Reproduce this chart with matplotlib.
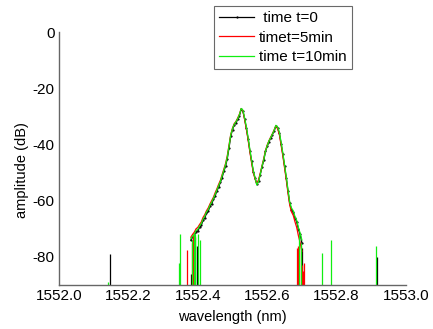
import matplotlib
matplotlib.use("Agg")
import matplotlib.pyplot as plt

plt.rcParams['font.family'] = ['Liberation Sans', 'DejaVu Sans']

# main spectrum (shared wavelength grid)
wl = [1552.380, 1552.385, 1552.390, 1552.395, 1552.400, 1552.405, 1552.410, 1552.415,
      1552.420, 1552.425, 1552.430, 1552.435, 1552.440, 1552.445, 1552.450, 1552.455,
      1552.460, 1552.465, 1552.470, 1552.475, 1552.480, 1552.485, 1552.490, 1552.495,
      1552.500, 1552.505, 1552.510, 1552.515, 1552.520, 1552.525, 1552.530, 1552.535,
      1552.540, 1552.545, 1552.550, 1552.555, 1552.560, 1552.565, 1552.570, 1552.575,
      1552.580, 1552.585, 1552.590, 1552.595, 1552.600, 1552.605, 1552.610, 1552.615,
      1552.620, 1552.625, 1552.630, 1552.635, 1552.640, 1552.645, 1552.650, 1552.655,
      1552.660, 1552.665, 1552.670, 1552.675, 1552.680, 1552.685, 1552.690, 1552.695,
      1552.700]
amp_t0 = [-74.0, -73.0, -72.5, -71.0, -70.8, -69.5, -68.8, -67.0, -66.2, -64.5, -63.8, -62.0,
          -61.2, -59.5, -58.3, -56.5, -55.2, -53.5, -51.8, -49.5, -47.8, -45.0, -41.2, -37.0,
          -34.8, -33.0, -32.4, -31.0, -29.8, -27.5, -28.2, -31.0, -34.3, -38.0, -42.2, -46.0,
          -49.7, -52.0, -54.2, -53.0, -50.7, -48.0, -45.7, -42.5, -40.7, -39.0, -37.8, -36.5,
          -35.2, -33.5, -34.2, -36.0, -39.7, -43.5, -47.7, -52.0, -56.7, -61.0, -63.2, -64.0,
          -66.2, -67.5, -70.2, -72.0, -75.0]
amp_t5 = [-73.0, -72.0, -71.2, -70.0, -69.5, -68.5, -67.6, -66.0, -65.0, -63.6, -62.6, -61.2,
          -60.0, -58.8, -57.2, -55.8, -54.2, -52.8, -50.8, -48.8, -46.8, -44.0, -40.2, -36.4,
          -34.2, -32.6, -31.8, -30.6, -29.2, -27.3, -28.0, -31.2, -34.6, -38.4, -42.6, -46.5,
          -50.0, -52.3, -54.0, -52.6, -50.2, -47.6, -45.0, -42.2, -40.2, -38.7, -37.4, -36.2,
          -34.8, -33.3, -34.4, -36.4, -40.2, -44.0, -48.3, -52.6, -57.4, -61.6, -64.0, -65.2,
          -67.5, -69.5, -72.5, -75.0, -78.0]
amp_t10 = [-73.6, -72.6, -72.0, -70.6, -70.2, -69.0, -68.2, -66.6, -65.6, -64.0, -63.2, -61.6,
           -60.6, -59.2, -57.8, -56.2, -54.7, -53.2, -51.2, -49.2, -47.2, -44.5, -40.6, -36.6,
           -34.4, -32.8, -32.0, -30.8, -29.4, -27.2, -27.8, -30.6, -33.8, -37.6, -41.8, -45.6,
           -49.4, -51.8, -54.4, -53.2, -50.6, -47.8, -45.4, -42.4, -40.4, -38.8, -37.6, -36.3,
           -35.0, -33.2, -33.8, -35.6, -39.2, -43.0, -47.2, -51.6, -56.2, -60.6, -62.6, -63.6,
           -65.6, -67.0, -69.6, -71.6, -74.0]

# isolated noise spikes (wavelength, top amplitude)
spk_t0_wl = [1552.147, 1552.380, 1552.392, 1552.397, 1552.700, 1552.917]
spk_t0_amp = [-79.0, -86.0, -73.0, -76.0, -77.0, -80.0]
spk_t5_wl = [1552.368, 1552.383, 1552.386, 1552.686, 1552.690, 1552.697, 1552.700, 1552.703, 1552.705]
spk_t5_amp = [-77.5, -75.0, -72.0, -77.0, -76.0, -76.0, -83.0, -85.0, -82.0]
spk_t10_wl = [1552.140, 1552.347, 1552.349, 1552.383, 1552.388, 1552.393, 1552.400, 1552.405,
              1552.693, 1552.697, 1552.758, 1552.784, 1552.913]
spk_t10_amp = [-89.0, -82.0, -72.0, -74.0, -72.0, -72.0, -72.0, -74.0, -72.0, -75.0, -78.6, -74.0, -76.0]

labels = [' time t=0', 'timet=5min', 'time t=10min']
colors = ['#000000', '#ff0000', '#11ee11']
x_ticks = [1552.0, 1552.2, 1552.4, 1552.6, 1552.8, 1553.0]
y_ticks = [0, -20, -40, -60, -80]

fig = plt.figure(figsize=(4.33, 3.29), dpi=100)
ax = fig.add_axes([59/433, 1-285/329, (406-59)/433, (285-32)/329])

series = [(amp_t0, spk_t0_wl, spk_t0_amp), (amp_t5, spk_t5_wl, spk_t5_amp), (amp_t10, spk_t10_wl, spk_t10_amp)]
for (amp, sw, sa), lab, c in zip(series, labels, colors):
    ax.plot(wl, amp, color=c, lw=0.9, label=lab,
            marker='.' if c == '#000000' else None, markersize=1.2)
    ax.vlines(sw, -100, sa, color=c, lw=0.9)

ax.set_xlim(1552.0, 1553.0)
ax.set_ylim(-90, 0)
ax.set_xticks(x_ticks)
ax.set_xticklabels([f'{v:.1f}' for v in x_ticks])
ax.set_yticks(y_ticks)
ax.set_yticklabels([str(v) for v in y_ticks])
ax.tick_params(length=0, labelsize=11, pad=3)
for s in ['top', 'right']:
    ax.spines[s].set_visible(False)
for s in ['left', 'bottom']:
    ax.spines[s].set_color('#666666')
    ax.spines[s].set_linewidth(1.0)

fig.text(232/433, 1-317/329, 'wavelength (nm)', ha='center', va='center', fontsize=10.5)
fig.text(22/433, 1-170/329, 'amplitude (dB)', ha='center', va='center', rotation=90, fontsize=10.5)

leg = ax.legend(loc='upper left', bbox_to_anchor=(214/433, 1-6/329), bbox_transform=fig.transFigure,
                fontsize=11, frameon=True, fancybox=False, borderpad=0.35, labelspacing=0.35,
                handlelength=2.3, handletextpad=0.3, borderaxespad=0)
leg.get_frame().set_edgecolor('#444444')
leg.get_frame().set_linewidth(0.8)

fig.savefig('out.png', dpi=100)
